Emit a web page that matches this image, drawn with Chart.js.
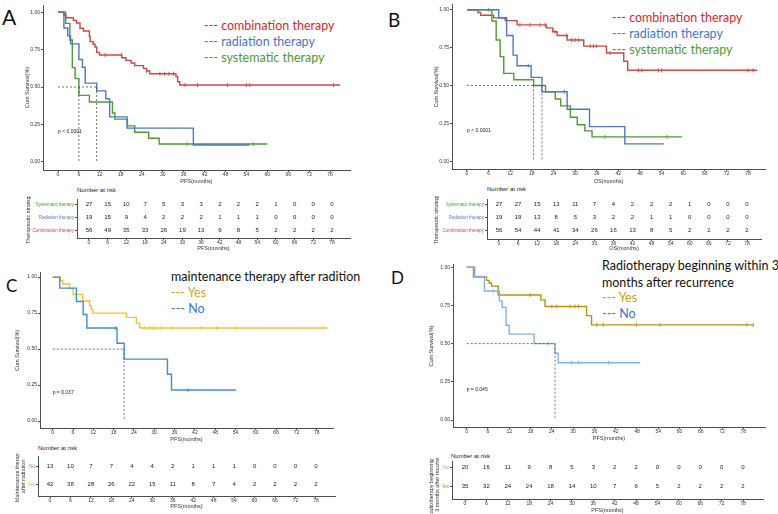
<!DOCTYPE html>
<html>
<head>
<meta charset="utf-8">
<script src="https://cdn.jsdelivr.net/npm/chart.js@4.4.1/dist/chart.umd.min.js"></script>
<style>
  html, body { margin: 0; padding: 0; background: #fff; }
  body { position: relative; width: 778px; height: 514px; overflow: hidden; font-family: 'Liberation Sans', Arial, sans-serif; }
  .txt { position: absolute; white-space: nowrap; line-height: 1; }
  .leg { font-family: Lato, 'Open Sans', sans-serif; font-size: 12.5px; }
  .letter { font-family: Lato, 'Open Sans', sans-serif; color: #111; }
  .risk { font-size: 6px; color: #222; }
</style>
</head>
<body>
<div class="txt letter" style="left:2px;top:6px;font-size:21px">A</div>
<div class="txt letter" style="left:388px;top:10px;font-size:19px">B</div>
<div class="txt letter" style="left:6px;top:277px;font-size:17px">C</div>
<div class="txt letter" style="left:391px;top:269px;font-size:17px">D</div>

<div class="txt leg" style="left:204px;top:20px;color:#d8272d">--- combination therapy</div>
<div class="txt leg" style="left:204px;top:36px;color:#4a76c6">--- radiation therapy</div>
<div class="txt leg" style="left:204px;top:52px;color:#4f9a2f">--- systematic therapy</div>

<div class="txt leg" style="left:612px;top:12px;color:#d8272d">--- combination therapy</div>
<div class="txt leg" style="left:612px;top:28px;color:#4a76c6">--- radiation therapy</div>
<div class="txt leg" style="left:612px;top:44px;color:#4f9a2f">--- systematic therapy</div>

<div class="txt leg" style="left:171px;top:271px;color:#111">maintenance therapy after radition</div>
<div class="txt leg" style="left:171px;top:287px;color:#d9a520">--- Yes</div>
<div class="txt leg" style="left:171px;top:303px;color:#3b78d0">--- No</div>

<div class="txt leg" style="left:602px;top:260px;color:#111">Radiotherapy beginning within 3</div>
<div class="txt leg" style="left:602px;top:277px;color:#111">months after recurrence</div>
<div class="txt leg" style="left:602px;top:292px;color:#c8a000">--- Yes</div>
<div class="txt leg" style="left:602px;top:308px;color:#3b78d0">--- No</div>

<div class="txt risk" style="left:77px;top:187px">Number at risk</div>
<div class="txt risk" style="left:487px;top:186px">Number at risk</div>
<div class="txt risk" style="left:38px;top:445px">Number at risk</div>
<div class="txt risk" style="left:451px;top:453px">Number at risk</div>

<script>
Chart.defaults.font.family = "'Liberation Sans', Arial, sans-serif";
Chart.defaults.color = '#333';
Chart.defaults.animation = false;

// Osa měsíců a přežití
const MONTHS = [0, 6, 12, 18, 24, 30, 36, 42, 48, 54, 60, 66, 72, 78];
const SURV_TICKS = [0, 0.25, 0.5, 0.75, 1];

// ── A: PFS podle strategie ──────────────────────────────────────────────
const pfsA_combT = [0, 1.7, 2.3, 4.4, 5.3, 6.3, 7.3, 9.0, 9.2, 10.1, 10.6, 11.1, 11.9, 18.3, 19.5, 21, 22, 24.5, 25.4, 26.3, 33.8, 34.3, 34.9, 80.9];
const pfsA_combS = [1, .982, .964, .946, .929, .893, .875, .839, .804, .786, .768, .732, .714, .696, .678, .661, .643, .625, .607, .589, .57, .535, .513, .513];
const pfsA_combCens = [13.5, 18.2, 25.4, 29.2, 30.5, 31.8, 33.1, 36.4, 40, 48.6, 54, 55, 79];
const pfsA_radT = [0, 1.7, 2.8, 3.6, 6.0, 7.0, 7.8, 11.1, 13.7, 14.8, 19.8, 38.8, 54.9];
const pfsA_radS = [1, .895, .842, .789, .684, .632, .526, .474, .421, .30, .225, .112, .112];
const pfsA_sysT = [0, 2.2, 3.4, 4.1, 4.9, 6.0, 9.0, 15.6, 16.3, 19.9, 22, 26, 29, 60];
const pfsA_sysS = [1, .926, .815, .63, .556, .444, .40, .326, .285, .24, .197, .157, .118, .118];
const pfsA_sysCens = [37, 56];
const pfsA_medians = [6.0, 11.1];

// ── B: OS podle strategie ───────────────────────────────────────────────
const osB_combT = [0, 3, 3.8, 7.4, 10.6, 13.9, 22, 23.8, 25, 27.8, 32.4, 38.7, 43.5, 44.6, 80.5];
const osB_combS = [1, .982, .964, .946, .928, .90, .88, .855, .83, .80, .76, .714, .66, .60, .60];
const osB_combCens = [14.7, 17.5, 20.3, 21.7, 24.4, 27.7, 29, 30, 31, 34.2, 35.1, 36, 39.7, 47.6, 48.5, 53.1, 54, 78, 79.4];
const osB_radT = [0, 8.8, 11, 12.8, 13.9, 17.8, 20.8, 27.8, 34, 43.8, 54.6];
const osB_radS = [1, .947, .83, .70, .63, .553, .458, .343, .228, .114, .114];
const osB_radCens = [17, 27];
const osB_sysT = [0, 6.9, 8.1, 9.2, 10.2, 13, 18.5, 21.8, 24.5, 26, 28.7, 30.6, 32.7, 34.7, 59.7];
const osB_sysS = [1, .926, .80, .69, .58, .538, .50, .458, .41, .365, .29, .24, .20, .16, .16];
const osB_sysCens = [6, 38.3, 55.5];
const osB_medians = [18.5, 20.8];

// ── C: udržovací terapie ────────────────────────────────────────────────
const pfsC_yesT = [0, 2.1, 3, 5, 6, 8.9, 10.9, 11.4, 11.9, 21.8, 24.7, 25.7, 81.4];
const pfsC_yesS = [1, .976, .952, .92, .88, .836, .80, .776, .75, .72, .68, .646, .646];
const pfsC_yesCens = [27.2, 28.7, 29.7, 30.6, 32.1, 35, 43.9, 48.4, 54.3, 79.9];
const pfsC_noT = [0, 2.1, 7, 9, 10.1, 19, 21.1, 33.9, 35.1, 54.1];
const pfsC_noS = [1, .923, .83, .74, .646, .54, .43, .325, .216, .216];
const pfsC_noCens = [18.5, 40];
const pfsC_medians = [21.1];

// ── D: radioterapie do 3 měsíců ─────────────────────────────────────────
const pfsD_yesT = [0, 1.9, 5.6, 6.3, 7, 8.9, 20.9, 22.1, 33.8, 35.2, 81];
const pfsD_yesS = [1, .936, .914, .897, .876, .818, .786, .743, .683, .623, .623];
const pfsD_yesCens = [17.9, 24, 25.4, 29.1, 30.5, 31.5, 36.7, 38.5, 47.9, 54.5, 79, 80.8];
const pfsD_noT = [0, 2.3, 5, 9.2, 10, 11.1, 12, 19, 24.9, 25.8, 48.9];
const pfsD_noS = [1, .94, .844, .78, .737, .62, .562, .50, .437, .375, .375];
const pfsD_noCens = [7.5, 23, 29.6, 31.5, 40];
const pfsD_medians = [24.9];

// ── Number at risk ──────────────────────────────────────────────────────
const riskA_sys = [27, 15, 10, 7, 5, 3, 3, 2, 2, 2, 1, 0, 0, 0];
const riskA_rad = [19, 15, 9, 4, 2, 2, 2, 1, 1, 1, 0, 0, 0, 0];
const riskA_comb = [56, 49, 35, 33, 26, 19, 13, 9, 8, 5, 2, 2, 2, 2];
const riskB_sys = [27, 27, 15, 13, 11, 7, 4, 2, 2, 2, 1, 0, 0, 0];
const riskB_rad = [19, 19, 13, 8, 5, 3, 2, 2, 1, 1, 0, 0, 0, 0];
const riskB_comb = [56, 54, 44, 41, 34, 26, 16, 13, 8, 5, 2, 2, 2, 2];
const riskC_no = [13, 10, 7, 7, 4, 4, 2, 1, 1, 1, 0, 0, 0, 0];
const riskC_yes = [42, 38, 28, 26, 22, 15, 11, 8, 7, 4, 2, 2, 2, 2];
const riskD_no = [20, 16, 11, 9, 8, 5, 3, 2, 2, 0, 0, 0, 0, 0];
const riskD_yes = [35, 32, 24, 24, 18, 14, 10, 7, 6, 5, 2, 2, 2, 2];

const AXIS = '#4d4d4d';
const COMB = '#d24545', RAD = '#5079bd', SYS = '#4f9a35';

// Text (p-hodnota) v souřadnicích os
Chart.register({
  id: 'noteText',
  afterDatasetsDraw(chart, args, o) {
    if (!o.text) return;
    const { ctx, scales } = chart;
    ctx.save();
    ctx.font = "5px 'Liberation Sans', Arial, sans-serif";
    ctx.fillStyle = '#222';
    ctx.textBaseline = 'middle';
    ctx.fillText(o.text, scales.x.getPixelForValue(o.x), scales.y.getPixelForValue(o.y));
    ctx.restore();
  },
});

// Čísla v tabulce rizika: na pozicích bodů datasetu
Chart.register({
  id: 'riskNumbers',
  afterDatasetsDraw(chart, args, o) {
    if (!o.on) return;
    const ctx = chart.ctx;
    ctx.save();
    ctx.font = "6px 'Liberation Sans', Arial, sans-serif";
    ctx.fillStyle = '#222';
    ctx.textAlign = 'center';
    ctx.textBaseline = 'middle';
    chart.data.datasets.forEach((ds, di) => {
      chart.getDatasetMeta(di).data.forEach((pt, i) => ctx.fillText(String(ds.counts[i]), pt.x, pt.y));
    });
    ctx.restore();
  },
});

function mount(box) {
  const c = document.createElement('canvas');
  c.width = box[2];
  c.height = box[3];
  c.style.cssText = `position:absolute;left:${box[0]}px;top:${box[1]}px;width:${box[2]}px;height:${box[3]}px`;
  document.body.appendChild(c);
  return c;
}

function axisX(min, max, h, title) {
  return {
    type: 'linear', min, max,
    afterFit: (s) => { s.height = h; },
    afterBuildTicks: (s) => { s.ticks = MONTHS.map((v) => ({ value: v })); },
    ticks: { font: { size: 5 }, color: '#333', padding: 0, autoSkip: false, maxRotation: 0 },
    grid: { drawOnChartArea: false, tickLength: 2, color: AXIS },
    border: { color: AXIS, width: 1 },
    title: { display: true, text: title, font: { size: 5.5 }, color: '#333', padding: { top: 0, bottom: 0 } },
  };
}

function axisY(min, max, w, title, values, label, color, size) {
  return {
    type: 'linear', min, max,
    afterFit: (s) => { s.width = w; },
    afterBuildTicks: (s) => { s.ticks = values.map((v) => ({ value: v })); },
    ticks: { font: { size }, color, padding: 1, autoSkip: false, callback: label },
    grid: { drawOnChartArea: false, tickLength: 2, color: AXIS },
    border: { color: AXIS, width: 1 },
    title: { display: true, text: title, font: { size: 5.5 }, color: '#333', padding: { top: 0, bottom: 0 } },
  };
}

function survAt(t, s, x) {
  let v = s[0];
  t.forEach((ti, i) => { if (ti <= x) v = s[i]; });
  return v;
}

// box = [left, top, width, height] plátna, area = [left, top, right, bottom] grafu
function kmChart(box, area, xr, yr, curves, medians, note, xTitle) {
  const datasets = [];
  const dash = { borderColor: '#555', borderWidth: 0.8, borderDash: [2, 2], pointRadius: 0, fill: false };
  datasets.push({ ...dash, data: [{ x: 0, y: 0.5 }, { x: Math.max(...medians), y: 0.5 }] });
  medians.forEach((m) => datasets.push({ ...dash, data: [{ x: m, y: 0.5 }, { x: m, y: 0 }] }));
  curves.forEach((c) => {
    datasets.push({ data: c.t.map((t, i) => ({ x: t, y: c.s[i] })), stepped: 'before', borderColor: c.color, borderWidth: 1.4, pointRadius: 0, fill: false });
    if (c.cens) {
      datasets.push({ data: c.cens.map((x) => ({ x, y: survAt(c.t, c.s, x) })), showLine: false, pointStyle: 'line', rotation: 90, pointRadius: 2, borderColor: c.color, borderWidth: 0.9 });
    }
  });
  new Chart(mount(box), {
    type: 'line',
    data: { datasets },
    options: {
      responsive: false,
      layout: { padding: { left: 0, top: area[1] - box[1], right: box[0] + box[2] - area[2], bottom: 0 } },
      plugins: { legend: { display: false }, tooltip: { enabled: false }, noteText: note },
      scales: {
        x: axisX(xr[0], xr[1], box[1] + box[3] - area[3], xTitle),
        y: axisY(yr[0], yr[1], area[0] - box[0], 'Cum Survival(%)', SURV_TICKS, (v) => v.toFixed(2), '#333', 5),
      },
    },
  });
}

// rows: odspodu nahoru (index 0 = spodní řádek)
function riskChart(box, area, xr, yr, rows, yTitle, xTitle) {
  const datasets = rows.map((r, idx) => ({
    data: MONTHS.map((m) => ({ x: m, y: idx })), counts: r.n, showLine: false, pointRadius: 0,
  }));
  new Chart(mount(box), {
    type: 'line',
    data: { datasets },
    options: {
      responsive: false,
      layout: { padding: { left: 0, top: area[1] - box[1], right: box[0] + box[2] - area[2], bottom: 0 } },
      plugins: { legend: { display: false }, tooltip: { enabled: false }, riskNumbers: { on: true } },
      scales: {
        x: axisX(xr[0], xr[1], box[1] + box[3] - area[3], xTitle),
        y: axisY(yr[0], yr[1], area[0] - box[0], yTitle, rows.map((r, i) => i), (v) => rows[v].label,
          (ctx) => rows[ctx.tick.value] ? rows[ctx.tick.value].color : '#333', 4.5),
      },
    },
  });
}

kmChart([24, 0, 336, 185], [43, 5, 350, 170], [-4.3, 83.7], [-0.0556, 1.049], [
  { t: pfsA_radT, s: pfsA_radS, color: RAD },
  { t: pfsA_sysT, s: pfsA_sysS, color: SYS, cens: pfsA_sysCens },
  { t: pfsA_combT, s: pfsA_combS, color: COMB, cens: pfsA_combCens },
], pfsA_medians, { text: 'p < 0.0001', x: 0, y: 0.2 }, 'PFS(months)');

kmChart([433, 0, 342, 185], [452, 2, 765, 169], [-4.16, 82.7], [-0.052, 1.032], [
  { t: osB_radT, s: osB_radS, color: RAD, cens: osB_radCens },
  { t: osB_sysT, s: osB_sysS, color: SYS, cens: osB_sysCens },
  { t: osB_combT, s: osB_combS, color: COMB, cens: osB_combCens },
], osB_medians, { text: 'p < 0.0001', x: 0, y: 0.2 }, 'OS(months)');

kmChart([14, 268, 330, 175], [40, 270, 333, 428], [-3.75, 82.8], [-0.048, 1.029], [
  { t: pfsC_noT, s: pfsC_noS, color: '#3f8ed6', cens: pfsC_noCens },
  { t: pfsC_yesT, s: pfsC_yesS, color: '#f2c230', cens: pfsC_yesCens },
], pfsC_medians, { text: 'p = 0.037', x: 0, y: 0.2 }, 'PFS(months)');

kmChart([428, 260, 347, 182], [453, 262, 765, 427], [-3.86, 84.1], [-0.045, 1.015], [
  { t: pfsD_noT, s: pfsD_noS, color: '#84b2e6', cens: pfsD_noCens },
  { t: pfsD_yesT, s: pfsD_yesS, color: '#b5940f', cens: pfsD_yesCens },
], pfsD_medians, { text: 'p = 0.045', x: 0, y: 0.2 }, 'PFS(months)');

riskChart([25, 196, 335, 56], [77, 198, 350, 238], [-3.85, 83.8], [-0.59, 2.37], [
  { label: 'Combination therapy', color: '#d14848', n: riskA_comb },
  { label: 'Radiation therapy', color: '#5a7fc0', n: riskA_rad },
  { label: 'Systematic therapy', color: '#55a035', n: riskA_sys },
], 'Therapeutic strategy', 'PFS(months)');

riskChart([433, 196, 338, 56], [487, 198, 761, 239], [-3.77, 82.4], [-0.667, 2.37], [
  { label: 'Combination therapy', color: '#d14848', n: riskB_comb },
  { label: 'Radiation therapy', color: '#5a7fc0', n: riskB_rad },
  { label: 'Systematic therapy', color: '#55a035', n: riskB_sys },
], 'Therapeutic strategy', 'OS(months)');

riskChart([14, 453, 331, 57], [38, 455, 335, 496], [-3.52, 83.6], [-0.63, 1.53], [
  { label: 'Yes', color: '#e6b422', n: riskC_yes },
  { label: 'No', color: '#3d8ee0', n: riskC_no },
], ['Maintenance therapy', 'after radiation'], 'PFS(months)');

riskChart([428, 458, 345, 56], [452, 460, 763, 499], [-3.65, 83.6], [-0.65, 1.3], [
  { label: 'Yes', color: '#a88a10', n: riskD_yes },
  { label: 'No', color: '#7aaee6', n: riskD_no },
], ['Radiotherapy beginning within', '3 months after recurrence'], 'PFS(months)');
</script>
</body>
</html>
